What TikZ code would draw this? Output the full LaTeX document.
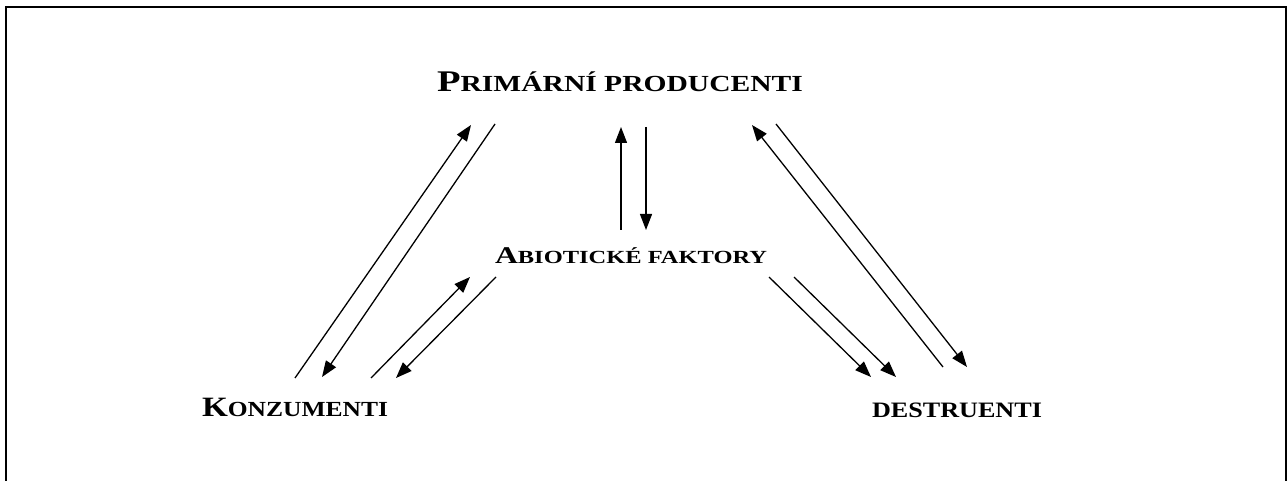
\documentclass[tikz,border=0pt]{standalone}
\usepackage{fontspec}
\setmainfont{Liberation Serif}
\usetikzlibrary{arrows.meta}

% fake bold small caps: a full-size initial, the rest in smaller capitals
\newcommand\scword[4]{{\fontsize{#1}{#1}\selectfont #3}{\fontsize{#2}{#2}\selectfont #4}}
% set a label and stretch it sideways to a given width
\newsavebox\lblbox
\newcommand\widelabel[2]{%
  \sbox\lblbox{#2}%
  \pgfmathsetmacro\lblratio{#1/\wd\lblbox}%
  \scalebox{\lblratio}[1]{\usebox\lblbox}}

\tikzset{
  label text/.style={font=\bfseries, inner sep=0pt, anchor=base},
  flow/.style={line width=1.3pt, -{Triangle[length=16pt,width=12pt]}},
  frame/.style={line width=2pt}
}

\begin{document}
\begin{tikzpicture}[x=1pt,y=-1pt]
  \useasboundingbox (0,0) rectangle (1288,481);

  % open frame round the scheme
  \draw[frame] (6,490) -- (6,7) -- (1286,7) -- (1286,490);

  % the four groups
  \node[label text] (prod) at (620,92)
    {\widelabel{366pt}{\scword{30pt}{23pt}{P}{RIMÁRNÍ PRODUCENTI}}};
  \node[label text] (abio) at (631,263)
    {\widelabel{272pt}{\scword{24pt}{18.5pt}{A}{BIOTICKÉ FAKTORY}}};
  \node[label text] (konz) at (295,416)
    {\widelabel{186pt}{\scword{28pt}{21.5pt}{K}{ONZUMENTI}}};
  \node[label text] (destr) at (957,417)
    {\widelabel{170pt}{\scword{22pt}{22pt}{D}{ESTRUENTI}}};

  % end points of the paired arrows
  \coordinate (kp1) at (295,378);  \coordinate (kp1t) at (471,125);
  \coordinate (pk1) at (495,124);  \coordinate (pk1t) at (322,377);
  \coordinate (ka1) at (371,378);  \coordinate (ka1t) at (470,277);
  \coordinate (ak1) at (496,277);  \coordinate (ak1t) at (396,378);
  \coordinate (ap1) at (621,230);  \coordinate (ap1t) at (621,127);
  \coordinate (pa1) at (646,127);  \coordinate (pa1t) at (646,230);
  \coordinate (dp1) at (943,367);  \coordinate (dp1t) at (752,125);
  \coordinate (pd1) at (776,124);  \coordinate (pd1t) at (967,367);
  \coordinate (ad1) at (769,277);  \coordinate (ad1t) at (871,377);
  \coordinate (ad2) at (794,277);  \coordinate (ad2t) at (896,377);

  % flows between the groups
  \draw[flow] (kp1) -- (kp1t);
  \draw[flow] (pk1) -- (pk1t);
  \draw[flow] (ka1) -- (ka1t);
  \draw[flow] (ak1) -- (ak1t);
  \draw[flow] (ap1) -- (ap1t);
  \draw[flow] (pa1) -- (pa1t);
  \draw[flow] (dp1) -- (dp1t);
  \draw[flow] (pd1) -- (pd1t);
  \draw[flow] (ad1) -- (ad1t);
  \draw[flow] (ad2) -- (ad2t);
\end{tikzpicture}
\end{document}
